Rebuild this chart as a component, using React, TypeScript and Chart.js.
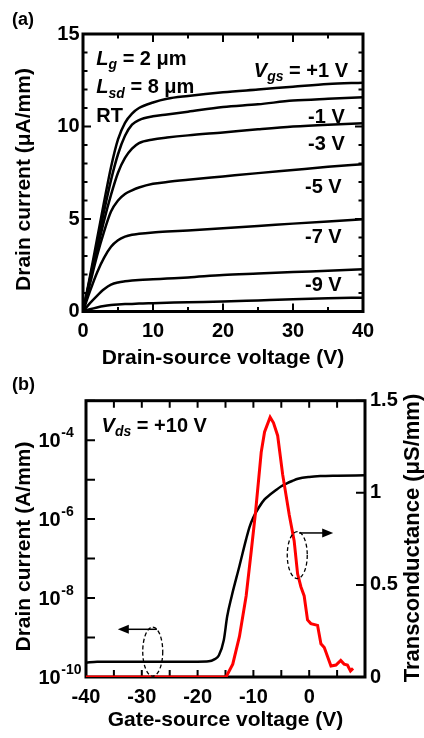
import React, { useEffect, useRef } from 'react';
import { Chart, registerables } from 'chart.js';

Chart.register(...registerables);

const FAMILY = "'Liberation Sans', Arial, Helvetica, sans-serif";

// ---------- (a) output characteristics: drain current (uA/mm) vs Vds (V) ----------
const vdsA = [0, 1, 2, 3, 4, 5, 6, 7, 8, 10, 12, 15, 20, 25, 30, 35, 40];
const idVgsP1 = [0, 1.9, 3.9, 5.9, 7.8, 9.3, 10.2, 10.7, 11.0, 11.3, 11.5, 11.65, 11.85, 12.0, 12.15, 12.3, 12.37];
const idVgsM1 = [0, 1.8, 3.6, 5.4, 7.1, 8.5, 9.5, 10.1, 10.35, 10.55, 10.65, 10.8, 11.05, 11.2, 11.4, 11.5, 11.58];
const idVgsM3 = [0, 1.7, 3.3, 4.9, 6.3, 7.5, 8.3, 8.8, 9.1, 9.3, 9.4, 9.52, 9.68, 9.85, 10.0, 10.1, 10.17];
const idVgsM5 = [0, 1.5, 3.0, 4.3, 5.4, 6.0, 6.35, 6.55, 6.7, 6.9, 7.0, 7.12, 7.3, 7.48, 7.65, 7.82, 7.96];
const idVgsM7 = [0, 1.1, 2.1, 2.9, 3.5, 3.85, 4.05, 4.15, 4.2, 4.27, 4.32, 4.38, 4.5, 4.62, 4.75, 4.87, 4.98];
const idVgsM9 = [0, 0.45, 0.85, 1.2, 1.45, 1.57, 1.63, 1.67, 1.7, 1.74, 1.78, 1.84, 1.97, 2.05, 2.13, 2.2, 2.28];
const idVgsM11 = [0, 0.12, 0.22, 0.3, 0.35, 0.38, 0.4, 0.41, 0.43, 0.45, 0.47, 0.5, 0.54, 0.6, 0.66, 0.71, 0.75];
const seriesA = [idVgsP1, idVgsM1, idVgsM3, idVgsM5, idVgsM7, idVgsM9, idVgsM11];
const vgsLabelsA = ['+1 V', '-1 V', '-3 V', '-5 V', '-7 V', '-9 V'];

// ---------- (b) transfer characteristics ----------
const vgsB = [-40, -38, -30, -20, -18, -17, -16.2, -15.3, -14.7, -13.9, -12.5, -11.3, -10.7, -10, -9, -8, -7, -6, -5, -4, -3, -2, 0, 2, 5, 10];
const idB = [2.3e-10, 2.45e-10, 2.45e-10, 2.45e-10, 2.5e-10, 2.8e-10, 3.5e-10, 8.7e-10, 3.4e-9, 1.1e-8, 6.5e-8, 3.1e-7, 6.3e-7, 1.12e-6, 2.0e-6, 3.16e-6, 4.2e-6, 5.4e-6, 6.8e-6, 8.1e-6, 9.3e-6, 1.05e-5, 1.17e-5, 1.23e-5, 1.26e-5, 1.29e-5];
const vgsGm = [-40, -15, -14.9, -13.7, -12.5, -11.3, -10.4, -9.6, -8.6, -8.0, -7.0, -6.4, -5.65, -4.76, -3.57, -2.7, -2.08, -1.49, -0.9, -0.3, 0.3, 1.5, 2.1, 2.7, 3.9, 4.8, 5.65, 6.25, 6.85, 7.4, 7.86];
const gmB = [0, 0, 0, 0.07, 0.22, 0.44, 0.68, 0.9, 1.22, 1.33, 1.41, 1.38, 1.31, 1.1, 0.88, 0.74, 0.56, 0.49, 0.44, 0.31, 0.29, 0.28, 0.18, 0.16, 0.06, 0.065, 0.09, 0.07, 0.065, 0.033, 0.047];
const decadeExpB = [-10, -9, -8, -7, -6, -5, -4, -3];
const labeledExpB = [-10, -8, -6, -4];

type Seg = { t: string; it?: boolean; sub?: boolean };

function drawRich(ctx: CanvasRenderingContext2D, segs: Seg[], x: number, y: number, align: 'left' | 'right', size = 20) {
  const fontFor = (s: Seg) => `${s.it ? 'italic ' : ''}bold ${s.sub ? Math.round(size * 0.68) : size}px ${FAMILY}`;
  const widths = segs.map((s) => {
    ctx.font = fontFor(s);
    return ctx.measureText(s.t).width;
  });
  const total = widths.reduce((a, b) => a + b, 0);
  let cx = align === 'right' ? x - total : x;
  ctx.textAlign = 'left';
  ctx.textBaseline = 'alphabetic';
  ctx.fillStyle = '#000';
  segs.forEach((s, i) => {
    ctx.font = fontFor(s);
    ctx.fillText(s.t, cx, y + (s.sub ? size * 0.22 : 0));
    cx += widths[i];
  });
}

function drawArrow(ctx: CanvasRenderingContext2D, x1: number, y1: number, x2: number, y2: number) {
  ctx.save();
  ctx.strokeStyle = '#000';
  ctx.fillStyle = '#000';
  ctx.lineWidth = 1.5;
  const dir = Math.sign(x2 - x1);
  ctx.beginPath();
  ctx.moveTo(x1, y1);
  ctx.lineTo(x2 - dir * 8, y2);
  ctx.stroke();
  ctx.beginPath();
  ctx.moveTo(x2, y2);
  ctx.lineTo(x2 - dir * 11, y2 - 4.5);
  ctx.lineTo(x2 - dir * 11, y2 + 4.5);
  ctx.closePath();
  ctx.fill();
  ctx.restore();
}

function drawDashedEllipse(ctx: CanvasRenderingContext2D, cx: number, cy: number, rx: number, ry: number) {
  ctx.save();
  ctx.strokeStyle = '#000';
  ctx.lineWidth = 1.3;
  ctx.setLineDash([4, 2.5]);
  ctx.beginPath();
  ctx.ellipse(cx, cy, rx, ry, 0, 0, Math.PI * 2);
  ctx.stroke();
  ctx.restore();
}

function drawVTitle(ctx: CanvasRenderingContext2D, text: string, cx: number, cy: number, size: number) {
  ctx.save();
  ctx.translate(cx, cy);
  ctx.rotate(-Math.PI / 2);
  ctx.font = `bold ${size}px ${FAMILY}`;
  ctx.fillStyle = '#000';
  ctx.textAlign = 'center';
  ctx.textBaseline = 'middle';
  ctx.fillText(text, 0, 0);
  ctx.restore();
}

type TickSpec = { id: string; sides: string[]; len: (v: number) => number };

function frameTicksPlugin(specs: TickSpec[]) {
  return {
    id: 'frameTicks',
    beforeDatasetsDraw(chart: any) {
      const { ctx, chartArea: a } = chart;
      ctx.save();
      ctx.strokeStyle = '#000';
      ctx.lineWidth = 2;
      ctx.beginPath();
      specs.forEach((sp) => {
        const sc = chart.scales[sp.id];
        sc.ticks.forEach((t: any) => {
          const p = sc.getPixelForValue(t.value);
          const L = sp.len(t.value);
          sp.sides.forEach((side) => {
            if (side === 'bottom') { ctx.moveTo(p, a.bottom); ctx.lineTo(p, a.bottom - L); }
            if (side === 'top') { ctx.moveTo(p, a.top); ctx.lineTo(p, a.top + L); }
            if (side === 'left') { ctx.moveTo(a.left, p); ctx.lineTo(a.left + L, p); }
            if (side === 'right') { ctx.moveTo(a.right, p); ctx.lineTo(a.right - L, p); }
          });
        });
      });
      ctx.stroke();
      ctx.lineWidth = 3;
      ctx.strokeRect(a.left, a.top, a.right - a.left, a.bottom - a.top);
      ctx.restore();
    },
  };
}

const tickFont = { size: 20, weight: 'bold' as const, family: FAMILY };
const titleFont = { size: 21, weight: 'bold' as const, family: FAMILY };

function makeChartA(canvas: HTMLCanvasElement) {
  const annot = {
    id: 'annotA',
    afterDatasetsDraw(chart: any) {
      const { ctx } = chart;
      const sx = chart.scales.x;
      const sy = chart.scales.y;
      const P = (x: number, y: number): [number, number] => [sx.getPixelForValue(x), sy.getPixelForValue(y)];
      ctx.save();
      drawRich(ctx, [{ t: 'L', it: true }, { t: 'g', it: true, sub: true }, { t: ' = 2 μm' }], ...P(1.9, 13.35), 'left');
      drawRich(ctx, [{ t: 'L', it: true }, { t: 'sd', it: true, sub: true }, { t: ' = 8 μm' }], ...P(1.9, 11.79), 'left');
      drawRich(ctx, [{ t: 'RT' }], ...P(1.9, 10.27), 'left');
      drawRich(ctx, [{ t: 'V', it: true }, { t: 'gs', it: true, sub: true }, { t: ' = ' + vgsLabelsA[0] }], ...P(37.86, 12.69), 'right');
      drawRich(ctx, [{ t: vgsLabelsA[1] }], ...P(37.4, 10.19), 'right');
      drawRich(ctx, [{ t: vgsLabelsA[2] }], ...P(37.4, 8.73), 'right');
      drawRich(ctx, [{ t: vgsLabelsA[3] }], ...P(36.95, 6.39), 'right');
      drawRich(ctx, [{ t: vgsLabelsA[4] }], ...P(36.95, 3.69), 'right');
      drawRich(ctx, [{ t: vgsLabelsA[5] }], ...P(36.95, 1.12), 'right');
      ctx.restore();
    },
    afterDraw(chart: any) {
      const { ctx } = chart;
      ctx.save();
      drawRich(ctx, [{ t: '(a)' }], 12, 25, 'left', 18);
      drawVTitle(ctx, 'Drain current (μA/mm)', 24.5, 179.5, 21);
      ctx.restore();
    },
  };
  return new Chart(canvas, {
    type: 'line',
    data: {
      datasets: seriesA.map((s) => ({
        data: vdsA.map((x, i) => ({ x, y: s[i] })),
        borderColor: '#000',
        borderWidth: 2.5,
        pointRadius: 0,
        cubicInterpolationMode: 'monotone' as const,
        fill: false,
      })),
    },
    options: {
      responsive: false,
      animation: false,
      devicePixelRatio: 1,
      layout: { padding: { top: 34, right: 61, left: 0, bottom: 0 } },
      plugins: { legend: { display: false }, tooltip: { enabled: false } },
      scales: {
        x: {
          type: 'linear',
          min: 0,
          max: 40,
          grid: { display: false, drawTicks: false },
          border: { display: false },
          ticks: {
            stepSize: 5,
            autoSkip: false,
            maxRotation: 0,
            padding: 8,
            color: '#000',
            font: tickFont,
            callback: (v: any) => (Number(v) % 10 === 0 ? String(v) : ''),
          },
          title: { display: true, text: 'Drain-source voltage (V)', color: '#000', font: titleFont, padding: { top: 0, bottom: 1.6 } },
          afterFit: (s: any) => { s.height = 60.5; },
        },
        y: {
          type: 'linear',
          min: 0,
          max: 15,
          grid: { display: false, drawTicks: false },
          border: { display: false },
          ticks: {
            stepSize: 1,
            autoSkip: false,
            padding: 3.5,
            color: '#000',
            font: tickFont,
            callback: (v: any) => (Number(v) % 5 === 0 ? String(v) : ''),
          },
          afterFit: (s: any) => { s.width = 83; },
        },
      },
    },
    plugins: [
      frameTicksPlugin([
        { id: 'x', sides: ['bottom', 'top'], len: (v) => (v % 10 === 0 ? 8 : 4.5) },
        { id: 'y', sides: ['left', 'right'], len: (v) => (v % 5 === 0 ? 8 : 4.5) },
      ]),
      annot,
    ],
  } as any);
}

function makeChartB(canvas: HTMLCanvasElement) {
  const annot = {
    id: 'annotB',
    afterDatasetsDraw(chart: any) {
      const { ctx } = chart;
      const sx = chart.scales.x;
      const sy2 = chart.scales.y2;
      const P = (x: number, y: number): [number, number] => [sx.getPixelForValue(x), sy2.getPixelForValue(y)];
      ctx.save();
      drawRich(ctx, [{ t: 'V', it: true }, { t: 'ds', it: true, sub: true }, { t: ' = +10 V' }], ...P(-37.2, 1.332), 'left');
      const [e1x, e1y] = P(-2.14, 0.662);
      drawDashedEllipse(ctx, e1x, e1y, 10, 23.5);
      const [a1x, a1y] = P(-1.8, 0.782);
      const [a1x2] = P(4.3, 0.782);
      drawArrow(ctx, a1x, a1y, a1x2, a1y);
      const [e2x, e2y] = P(-28.04, 0.138);
      drawDashedEllipse(ctx, e2x, e2y, 10, 24.5);
      const [a2x, a2y] = P(-27.3, 0.259);
      const [a2x2] = P(-34.3, 0.259);
      drawArrow(ctx, a2x, a2y, a2x2, a2y);
      ctx.restore();
    },
    afterDraw(chart: any) {
      const { ctx } = chart;
      const sy = chart.scales.y;
      ctx.save();
      drawRich(ctx, [{ t: '(b)' }], 12, 18, 'left', 18);
      // log tick labels 10^n
      labeledExpB.forEach((e) => {
        const py = sy.getPixelForValue(Math.pow(10, e));
        ctx.fillStyle = '#000';
        ctx.textAlign = 'left';
        ctx.textBaseline = 'alphabetic';
        ctx.font = `bold 20px ${FAMILY}`;
        ctx.fillText('10', 38.5, py + 7);
        const w = ctx.measureText('10').width;
        ctx.font = `bold 14px ${FAMILY}`;
        ctx.fillText(String(e), 38.5 + w + 0.5, py - 3.5);
      });
      drawVTitle(ctx, 'Drain current (A/mm)', 24.5, 174.5, 21);
      drawVTitle(ctx, 'Transconductance (μS/mm)', 412.5, 166, 22);
      ctx.restore();
    },
  };
  return new Chart(canvas, {
    type: 'line',
    data: {
      datasets: [
        {
          data: vgsGm.map((x, i) => ({ x, y: gmB[i] })),
          yAxisID: 'y2',
          borderColor: '#ff0000',
          borderWidth: 3,
          pointRadius: 0,
          tension: 0,
          fill: false,
        },
        {
          data: vgsB.map((x, i) => ({ x, y: idB[i] })),
          yAxisID: 'y',
          borderColor: '#000',
          borderWidth: 2.5,
          pointRadius: 0,
          cubicInterpolationMode: 'monotone' as const,
          fill: false,
        },
      ],
    },
    options: {
      responsive: false,
      animation: false,
      devicePixelRatio: 1,
      layout: { padding: { top: 28.7, right: 0, left: 0, bottom: 0 } },
      plugins: { legend: { display: false }, tooltip: { enabled: false } },
      scales: {
        x: {
          type: 'linear',
          min: -40,
          max: 10,
          grid: { display: false, drawTicks: false },
          border: { display: false },
          ticks: {
            stepSize: 5,
            autoSkip: false,
            maxRotation: 0,
            padding: 8,
            color: '#000',
            font: tickFont,
            callback: (v: any) => (Number(v) % 10 === 0 && Number(v) <= 0 ? String(v) : ''),
          },
          title: { display: true, text: 'Gate-source voltage (V)', color: '#000', font: titleFont, padding: { top: 0, bottom: 4.9 } },
          afterFit: (s: any) => { s.height = 61; },
        },
        y: {
          type: 'logarithmic',
          position: 'left',
          min: 1e-10,
          max: 1e-3,
          grid: { display: false, drawTicks: false },
          border: { display: false },
          ticks: { display: false },
          afterBuildTicks: (s: any) => { s.ticks = decadeExpB.map((e) => ({ value: Math.pow(10, e) })); },
          afterFit: (s: any) => { s.width = 86; },
        },
        y2: {
          type: 'linear',
          position: 'right',
          min: 0,
          max: 1.5,
          grid: { display: false, drawTicks: false },
          border: { display: false },
          ticks: {
            stepSize: 0.5,
            autoSkip: false,
            padding: 5,
            color: '#000',
            font: tickFont,
            callback: (v: any) => String(v),
          },
          afterFit: (s: any) => { s.width = 59; },
        },
      },
    },
    plugins: [
      frameTicksPlugin([
        { id: 'x', sides: ['bottom', 'top'], len: () => 7 },
        { id: 'y', sides: ['left'], len: () => 9 },
        { id: 'y2', sides: ['right'], len: () => 9 },
      ]),
      annot,
    ],
  } as any);
}

export default function App() {
  const refA = useRef<HTMLCanvasElement | null>(null);
  const refB = useRef<HTMLCanvasElement | null>(null);
  useEffect(() => {
    Chart.defaults.font.family = FAMILY;
    const ca = refA.current ? makeChartA(refA.current) : null;
    const cb = refB.current ? makeChartB(refB.current) : null;
    return () => {
      ca && ca.destroy();
      cb && cb.destroy();
    };
  }, []);
  return (
    <div style={{ position: 'fixed', left: 0, top: 0, width: 424, height: 738, background: '#fff', overflow: 'hidden' }}>
      <canvas ref={refA} width={424} height={372} style={{ position: 'absolute', left: 0, top: 0, display: 'block' }} />
      <canvas ref={refB} width={424} height={366} style={{ position: 'absolute', left: 0, top: 372, display: 'block' }} />
    </div>
  );
}
